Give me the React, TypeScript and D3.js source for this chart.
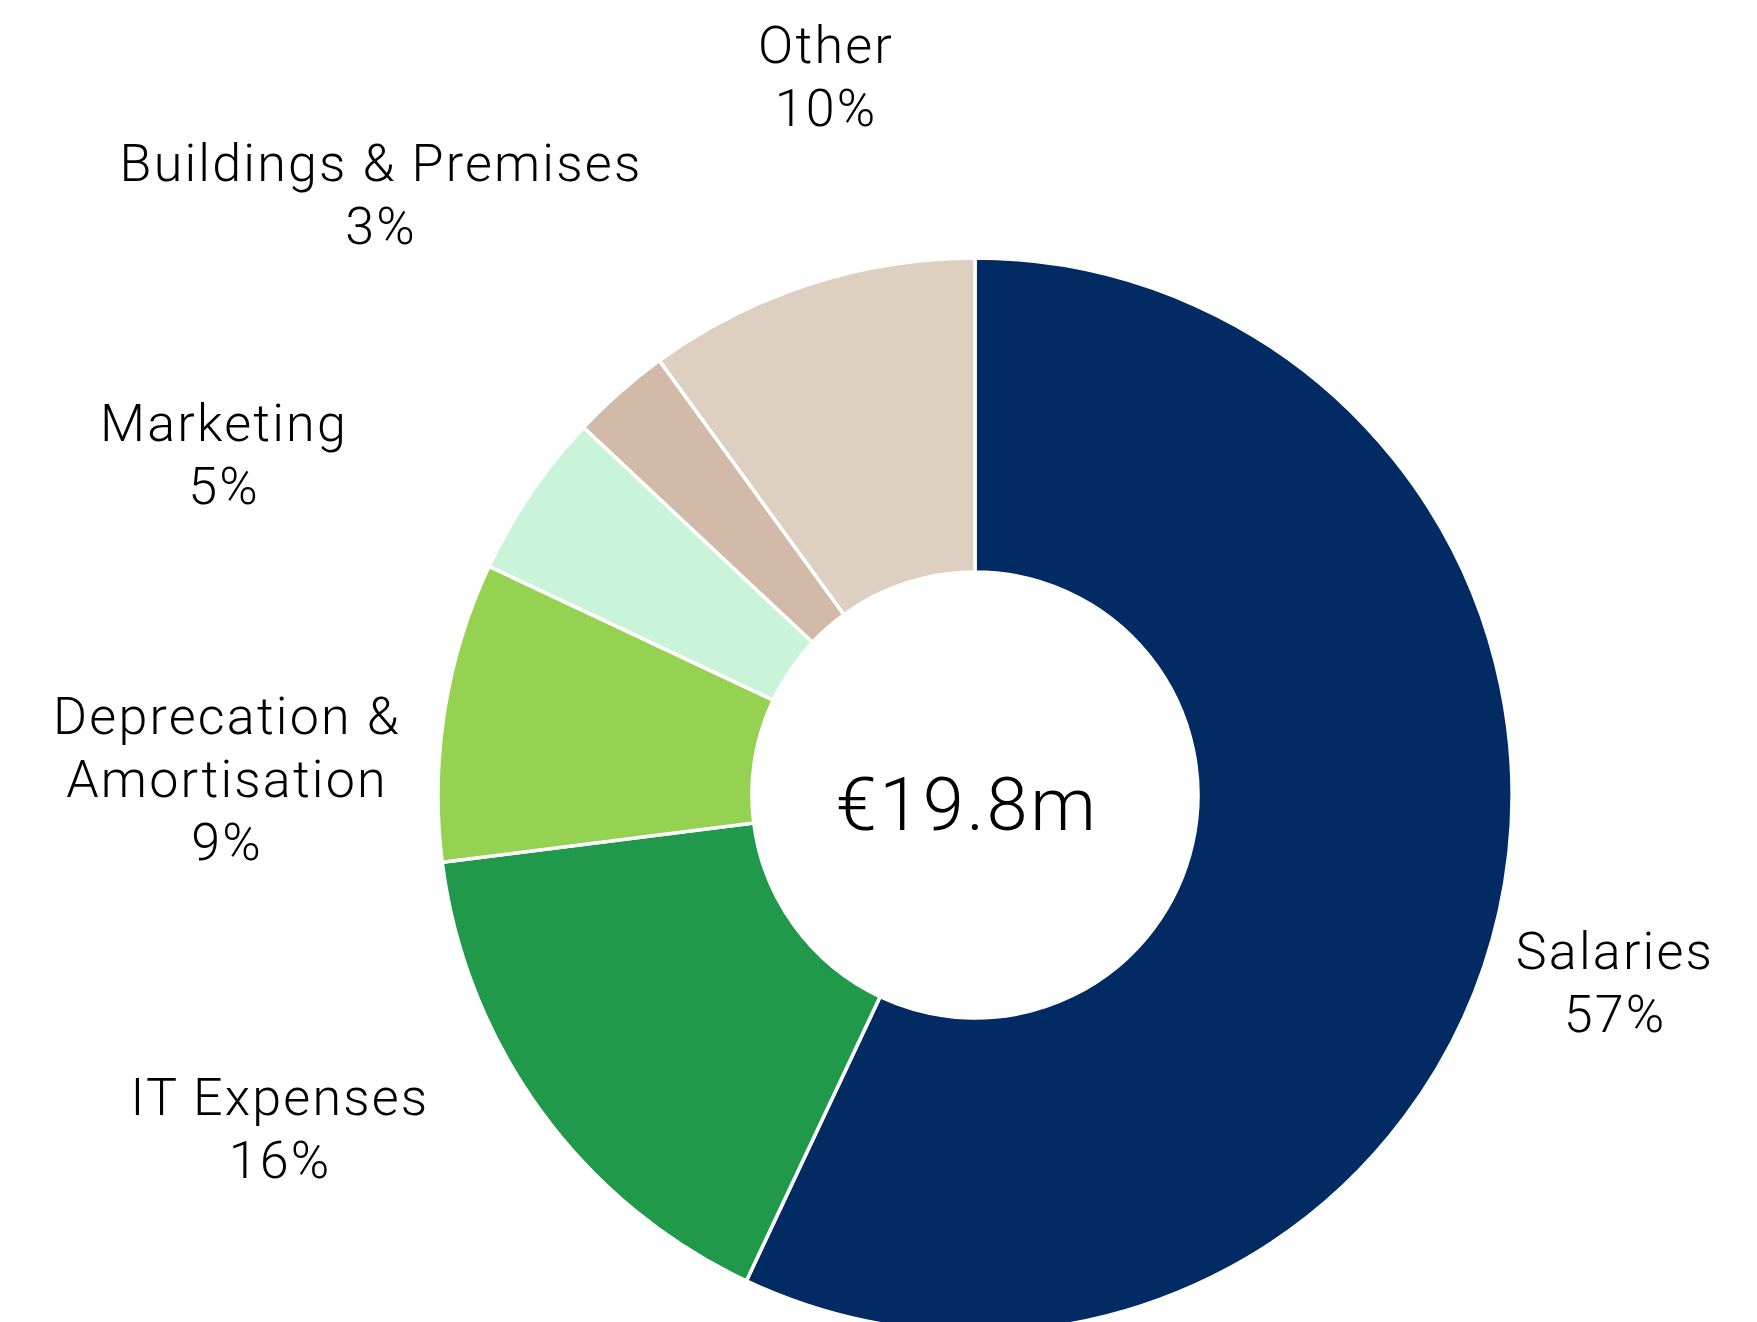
import React, { useEffect, useRef } from "react";
import * as d3 from "d3";

// Cost breakdown, share of total (%)
const categories = [
  "Salaries",
  "IT Expenses",
  "Deprecation & Amortisation",
  "Marketing",
  "Buildings & Premises",
  "Other",
];
const shares = [57, 16, 9, 5, 3, 10];
const colors = ["#012b62", "#21994a", "#95d251", "#c9f4d9", "#d1bba8", "#ded0c1"];
const totalLabel = "€19.8m";

// label lines as they are broken in the original
const labelLines: string[][] = [
  ["Salaries"],
  ["IT Expenses"],
  ["Deprecation &", "Amortisation"],
  ["Marketing"],
  ["Buildings & Premises"],
  ["Other"],
];

export default function App() {
  const svgRef = useRef<SVGSVGElement | null>(null);

  useEffect(() => {
    const width = 1757;
    const height = 1322;
    const cx = 975;
    const cy = 795;
    const outerRadius = 537;
    const innerRadius = 223;
    const lineHeight = 63;
    const font = "Roboto, Inter, sans-serif";

    // where each label block starts (centre x, first baseline)
    const labelAnchor = [
      [1615, 969],
      [280, 1115],
      [227, 734],
      [224, 441],
      [381, 181],
      [826, 63],
    ];

    const svg = d3.select(svgRef.current)
      .attr("width", width)
      .attr("height", height)
      .attr("viewBox", [0, 0, width, height].join(" "))
      .style("position", "absolute")
      .style("left", "0px")
      .style("top", "0px")
      .style("background", "#fff");

    svg.selectAll("*").remove();

    const data = categories.map((name, i) => ({ name, value: shares[i], color: colors[i] }));

    const pie = d3.pie<any>()
      .sort(null)
      .value(d => d.value);

    const arc = d3.arc<any>()
      .innerRadius(innerRadius)
      .outerRadius(outerRadius);

    const g = svg.append("g").attr("transform", `translate(${cx},${cy})`);

    g.selectAll("path")
      .data(pie(data))
      .join("path")
      .attr("d", arc)
      .attr("fill", d => d.data.color)
      .attr("stroke", "#fff")
      .attr("stroke-width", 3.5)
      .attr("stroke-linejoin", "miter");

    // centre total
    svg.append("text")
      .attr("x", cx - 8)
      .attr("y", 830)
      .attr("text-anchor", "middle")
      .attr("font-family", font)
      .attr("font-weight", 300)
      .attr("font-size", 74)
      .attr("letter-spacing", 2.5)
      .attr("fill", "#000")
      .text(totalLabel);

    // category labels
    data.forEach((d, i) => {
      const [x, y] = labelAnchor[i];
      const lines = [...labelLines[i], `${d.value}%`];
      const t = svg.append("text")
        .attr("text-anchor", "middle")
        .attr("font-family", font)
        .attr("font-weight", 300)
        .attr("font-size", 52)
        .attr("letter-spacing", 2.2)
        .attr("fill", "#000");
      lines.forEach((line, j) => {
        t.append("tspan")
          .attr("x", x)
          .attr("y", y + j * lineHeight)
          .text(line);
      });
    });

    return () => {
      d3.select(svgRef.current).selectAll("*").remove();
    };
  }, []);

  return (
    <div>
      <svg ref={svgRef} />
    </div>
  );
}
